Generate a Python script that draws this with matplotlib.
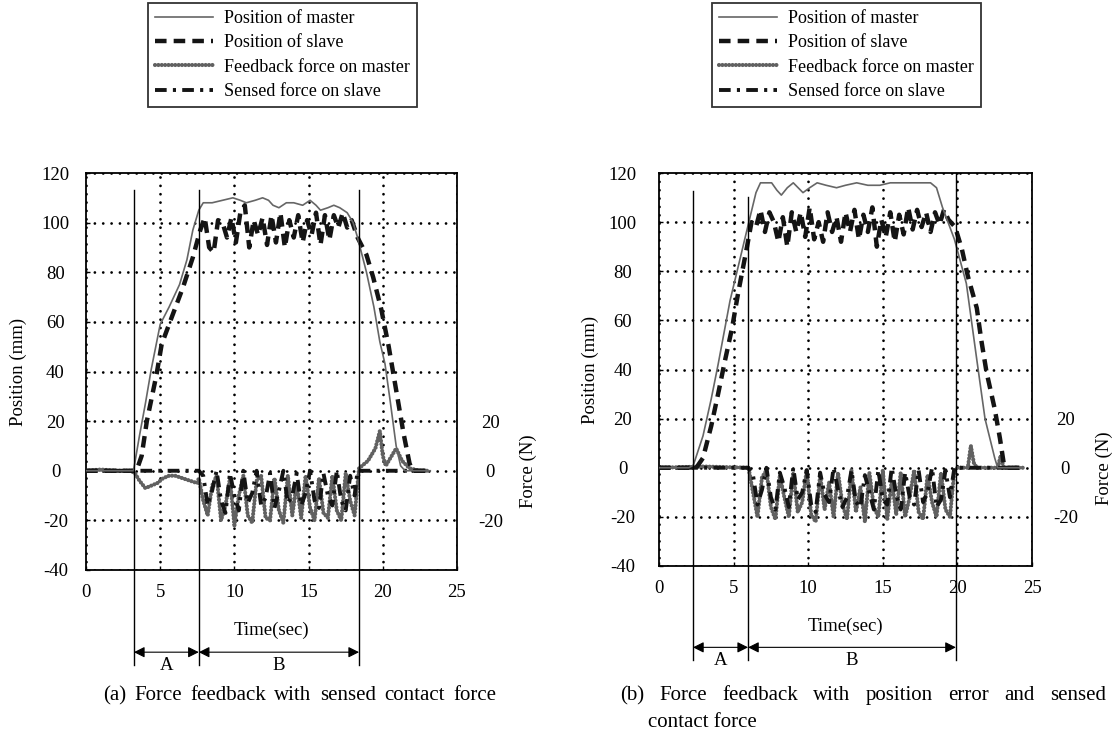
import matplotlib
matplotlib.use('Agg')
import matplotlib.pyplot as plt
from matplotlib.transforms import blended_transform_factory

plt.rcParams['font.family'] = ['Liberation Serif', 'DejaVu Serif']
plt.rcParams['axes.unicode_minus'] = False

# ---------------- data : panel (a) ----------------
t_master_a = [0, 1.5, 3.2, 3.6, 4.0, 4.4, 5.0, 5.6, 6.3, 6.8, 7.2, 7.6, 7.9, 8.5, 9.2, 9.9, 10.4, 10.8, 11.4, 11.9,
              12.3, 12.6, 13.0, 13.5, 14.0, 14.6, 15.1, 15.5, 15.8, 16.3, 16.7, 17.1, 17.6, 18.0, 18.3, 18.9, 19.4,
              19.8, 20.15, 20.5, 20.9, 21.2, 21.5, 23.2]
pos_master_a = [0, 0, 0, 14, 27, 41, 59, 66, 75, 85, 97, 105, 108, 108, 109, 110, 109, 108, 109, 110,
                109, 107, 106, 108, 108, 107, 109, 107, 105, 106, 107, 106, 104, 100, 94, 80, 66,
                52, 43, 28, 10, 2, 0, 0]

t_slave_a = [0, 1.5, 3.4, 3.75, 4.1, 4.76, 5.1, 5.66, 6.54, 7.2, 7.7, 8.0, 8.3, 8.6, 8.9, 9.2, 9.5, 9.8, 10.1, 10.4,
             10.7, 11.0, 11.3, 11.6, 11.9, 12.2, 12.5, 12.8, 13.1, 13.4, 13.7, 14.0, 14.3, 14.6, 14.9, 15.2, 15.5,
             15.8, 16.1, 16.4, 16.7, 17.0, 17.3, 17.6, 17.9, 18.3, 18.9, 19.35, 19.9, 20.4, 21.0, 21.4, 21.8, 22.0, 23.2]
pos_slave_a = [0, 0, 0, 6, 20, 39, 51, 60, 74, 86, 97, 102, 90, 88, 101, 100, 94, 102, 92, 104,
               107, 90, 101, 95, 102, 91, 103, 92, 104, 90, 101, 94, 103, 92, 101, 95, 104,
               91, 103, 93, 103, 98, 104, 98, 101, 94, 87, 78, 65, 50, 29, 15, 3, 0, 0]

t_fb_a = [0, 1.0, 2.0, 3.0, 3.3, 3.6, 4.0, 4.4, 4.8, 5.2, 5.6, 6.0, 6.5, 7.0, 7.5, 7.6, 7.9, 8.2, 8.5, 8.8,
          9.1, 9.4, 9.7, 10.0, 10.3, 10.6, 10.9, 11.2, 11.5, 11.8, 12.1, 12.4, 12.7, 13.0, 13.3, 13.6, 13.9, 14.2,
          14.5, 14.8, 15.1, 15.4, 15.7, 16.0, 16.3, 16.6, 16.9, 17.2, 17.5, 17.8, 18.1, 18.4, 19.0, 19.5, 19.8,
          20.0, 20.2, 20.5, 20.9, 21.3, 21.8, 22.5, 23.2]
force_fb_a = [0, 0.5, 0, 0, -1, -4, -7, -6, -5, -3, -2, -2, -3, -4, -5, -3, -12, -18, -6, -2,
              -20, -14, -3, -22, -10, -2, -18, -21, -4, -2, -19, -20, -3, -16, -21, -2, -18, -5,
              -19, -2, -15, -20, -3, -17, -19, -2, -16, -20, -1, -12, -18, 1, 4, 9, 16,
              6, 2, 5, 9, 4, 1, 0, 0]

t_sf_a = [0, 7.6, 7.9, 8.2, 8.5, 8.8, 9.1, 9.4, 9.7, 10.0, 10.3, 10.6, 10.9, 11.2, 11.5, 11.8, 12.1, 12.4, 12.7,
          13.0, 13.3, 13.6, 13.9, 14.2, 14.5, 14.8, 15.1, 15.4, 15.7, 16.0, 16.3, 16.6, 16.9, 17.2, 17.5, 17.8,
          18.1, 18.3, 23.2]
force_sf_a = [0, 0, -2, -14, -8, 0, -12, -17, -1, -10, -16, 0, -13, -9, 0, -14, -11, -1, -15,
              -8, 0, -13, -10, -1, -14, -9, 0, -12, -15, -1, -10, -14, 0, -12, -16, -2,
              -10, 0, 0]

bounds_a = [3.23, 7.6, 18.4]

# ---------------- data : panel (b) ----------------
t_master_b = [0, 1.0, 2.0, 2.3, 2.95, 3.5, 3.96, 4.76, 5.43, 6.1, 6.5, 6.8, 7.2, 7.55, 7.9, 8.2, 8.6, 9.0, 9.65, 10.1,
              10.6, 11.2, 11.9, 12.5, 13.25, 14.0, 14.8, 15.5, 16.4, 17.3, 18.2, 18.6, 19.0, 19.8, 20.6, 21.3, 21.85,
              22.5, 22.7, 24.4]
pos_master_b = [0, 0, 0, 1, 13, 28, 42, 68, 85, 102, 112, 116, 116, 116, 113, 111, 114, 116, 112, 114,
                116, 115, 114, 115, 116, 115, 115, 116, 116, 116, 116, 114, 106, 93, 75, 44, 20,
                4, 0, 0]

t_slave_b = [0, 1.0, 2.5, 2.95, 3.5, 3.96, 4.4, 4.9, 5.3, 5.9, 6.2, 6.5, 6.8, 7.1, 7.4, 7.7, 8.0, 8.3, 8.6, 8.9,
             9.2, 9.5, 9.8, 10.1, 10.4, 10.7, 11.0, 11.3, 11.6, 11.9, 12.2, 12.5, 12.8, 13.1, 13.4, 13.7, 14.0,
             14.3, 14.6, 14.9, 15.2, 15.5, 15.8, 16.1, 16.4, 16.7, 17.0, 17.3, 17.6, 17.9, 18.2, 18.5, 18.8, 19.1,
             19.4, 19.85, 20.3, 20.7, 21.3, 21.6, 21.95, 22.5, 22.85, 23.1, 23.3, 24.4]
pos_slave_b = [0, 0, 0, 4, 17, 30, 43, 57, 71, 90, 100, 98, 105, 96, 104, 100, 92, 102, 90, 104,
               96, 104, 94, 106, 93, 100, 92, 104, 96, 102, 92, 104, 96, 105, 93, 103, 96,
               106, 90, 101, 94, 104, 92, 103, 95, 106, 97, 105, 98, 104, 96, 104, 99, 105,
               101, 98, 89, 78, 65, 52, 39, 24, 12, 2, 0, 0]

t_fb_b = [0, 3.0, 6.0, 6.3, 6.6, 6.9, 7.2, 7.5, 7.8, 8.1, 8.4, 8.7, 9.0, 9.3, 9.6, 9.9, 10.2, 10.5, 10.8, 11.1,
          11.4, 11.7, 12.0, 12.3, 12.6, 12.9, 13.2, 13.5, 13.8, 14.1, 14.4, 14.7, 15.0, 15.3, 15.6, 15.9, 16.2,
          16.5, 16.8, 17.1, 17.4, 17.7, 18.0, 18.3, 18.6, 18.9, 19.2, 19.5, 19.8, 20.0, 20.7, 20.9, 21.1, 21.3,
          22.7, 22.9, 23.1, 24.4]
force_fb_b = [0, 0.5, 0, -10, -20, -4, -1, -16, -21, -3, -12, -20, -2, -18, -14, -1, -19, -22, -3, -17,
              -6, -20, -2, -15, -21, -1, -18, -8, -22, -2, -16, -20, -1, -21, -5, -19, -2,
              -20, -12, -1, -18, -21, -3, -14, -20, -2, -17, -20, -1, 0, 0, 9, 2, 0,
              0, 5, 0, 0]

t_sf_b = [0, 6.0, 6.3, 6.6, 6.9, 7.2, 7.5, 7.8, 8.1, 8.4, 8.7, 9.0, 9.3, 9.6, 9.9, 10.2, 10.5, 10.8, 11.1, 11.4,
          11.7, 12.0, 12.3, 12.6, 12.9, 13.2, 13.5, 13.8, 14.1, 14.4, 14.7, 15.0, 15.3, 15.6, 15.9, 16.2, 16.5,
          16.8, 17.1, 17.4, 17.7, 18.0, 18.3, 18.6, 18.9, 19.2, 19.5, 19.8, 24.4]
force_sf_b = [0, 0, -3, -15, -9, 0, -12, -17, -2, -8, -16, 0, -13, -10, -1, -15, -18, -2, -11, -14,
              0, -9, -16, -12, -1, -14, -16, -3, -10, -17, -1, -13, -15, 0, -11, -17, -2,
              -12, -15, -1, -14, -10, 0, -16, -13, -1, -12, 0, 0]

bounds_b = [2.28, 5.97, 19.9]

legend_labels = ['Position of master', 'Position of slave', 'Feedback force on master', 'Sensed force on slave']
x_ticks = [0, 5, 10, 15, 20, 25]
pos_ticks = [-40, -20, 0, 20, 40, 60, 80, 100, 120]
force_ticks = [-20, 0, 20]
caption_a = ['(a)', 'Force', 'feedback', 'with', 'sensed', 'contact', 'force']
caption_b1 = ['(b)', 'Force', 'feedback', 'with', 'position', 'error', 'and', 'sensed']
caption_b2 = 'contact force'
xlabel = 'Time(sec)'
ylabel = 'Position (mm)'
flabel = 'Force (N)'

# ---------------- figure ----------------
W, H = 1118, 738
fig = plt.figure(figsize=(W / 100, H / 100), dpi=100)
renderer = fig.canvas.get_renderer()


def fx(px):
    return px / W


def fy(py):
    return 1 - py / H


def justified(words, x0px, x1px, ypx, fs):
    texts = [fig.text(0, 0, w, fontsize=fs, va='baseline', ha='left') for w in words]
    widths = [t.get_window_extent(renderer).width for t in texts]
    gap = (x1px - x0px - sum(widths)) / (len(words) - 1)
    x = x0px
    for t, w in zip(texts, widths):
        t.set_position((fx(x), fy(ypx)))
        x += w + gap


FS = 13.5
CFS = 15

panels = [
    dict(box=(86, 457, 173, 570), tm=t_master_a, pm=pos_master_a, ts=t_slave_a, ps=pos_slave_a,
         tf=t_fb_a, ff=force_fb_a, tsf=t_sf_a, fsf=force_sf_a, bounds=bounds_a,
         tops=[0.957, 0.957, 0.957], leg=(148, 3), ypad=22),
    dict(box=(659, 1032, 173, 566), tm=t_master_b, pm=pos_master_b, ts=t_slave_b, ps=pos_slave_b,
         tf=t_fb_b, ff=force_fb_b, tsf=t_sf_b, fsf=force_sf_b, bounds=bounds_b,
         tops=[0.953, 0.94, 1.0], leg=(712, 3), ypad=26),
]

for i, p in enumerate(panels):
    x0, x1, y0, y1 = p['box']
    ax = fig.add_axes([fx(x0), fy(y1), fx(x1) - fx(x0), fy(y0) - fy(y1)])
    ax.set_xlim(0, 25)
    ax.set_ylim(-40, 120)
    ax.set_xticks(x_ticks)
    ax.set_yticks(pos_ticks)
    ax.tick_params(direction='in', length=3, width=1, labelsize=FS, pad=10)
    ax.tick_params(axis='y', pad=p['ypad'])
    for lab in ax.get_yticklabels():
        lab.set_horizontalalignment('center')
    for s in ax.spines.values():
        s.set_linewidth(1.3)
    ax.grid(True, color='black', linewidth=2.0, linestyle=(0, (0.01, 3.0)), dash_capstyle='round')
    ax.set_axisbelow(True)

    # series
    l_fb, = ax.plot(p['tf'], p['ff'], color='0.38', lw=3.0, linestyle=(0, (0.01, 0.8)),
                    dash_capstyle='round', zorder=3)
    l_sf, = ax.plot(p['tsf'], p['fsf'], color='0.08', lw=2.8, dashes=(3.0, 1.6, 0.8, 1.6), zorder=3)
    l_sl, = ax.plot(p['ts'], p['ps'], color='0.08', lw=3.2, dashes=(2.6, 1.6), zorder=4)
    l_ma, = ax.plot(p['tm'], p['pm'], color='0.4', lw=1.2, zorder=5)

    ax.set_ylabel(ylabel, fontsize=FS)
    ax.yaxis.set_label_coords(-0.16, 0.5)
    ax.set_xlabel(xlabel, fontsize=FS)
    ax.xaxis.set_label_coords(0.5, -0.131)

    # force axis (same scale)
    ax2 = ax.twinx()
    ax2.set_ylim(-40, 120)
    ax2.set_yticks(force_ticks)
    ax2.tick_params(axis='y', length=0, labelsize=FS, pad=24)
    for lab in ax2.get_yticklabels():
        lab.set_horizontalalignment('center')
    for s in ax2.spines.values():
        s.set_visible(False)
    ax2.set_ylabel(flabel, fontsize=FS, rotation=90)
    ax2.yaxis.set_label_coords(1.17, 0.25)

    # phase boundaries and arrows
    tr = blended_transform_factory(ax.transData, ax.transAxes)
    for b, top in zip(p['bounds'], p['tops']):
        ax.plot([b, b], [top, -0.24], transform=tr, color='black', lw=1.0, clip_on=False, zorder=6)
    ya = -0.207
    b0, b1, b2 = p['bounds']
    for (u, v), lab in zip([(b0, b1), (b1, b2)], ['A', 'B']):
        ax.annotate('', xy=(u, ya), xytext=(v, ya), xycoords=tr, textcoords=tr,
                    arrowprops=dict(arrowstyle='<|-|>', color='black', lw=0.8,
                                    mutation_scale=16, shrinkA=0, shrinkB=0))
        ax.text((u + v) / 2, ya - 0.012, lab, transform=tr, ha='center', va='top', fontsize=FS)

    # legend
    lx0, ly0 = p['leg']
    leg = fig.legend([l_ma, l_sl, l_fb, l_sf], legend_labels, loc='upper left',
                     bbox_to_anchor=(fx(lx0), fy(ly0)), bbox_transform=fig.transFigure,
                     fontsize=13, frameon=True, fancybox=False, edgecolor='black',
                     borderpad=0.4, labelspacing=0.4, handlelength=3.2, handletextpad=0.6,
                     borderaxespad=0)
    leg.get_frame().set_linewidth(1.3)

# captions
justified(caption_a, 103, 496, 700, CFS)
justified(caption_b1, 620, 1106, 700, CFS)
fig.text(fx(648), fy(727), caption_b2, fontsize=CFS, ha='left', va='baseline')

fig.savefig('out.png', dpi=100)
